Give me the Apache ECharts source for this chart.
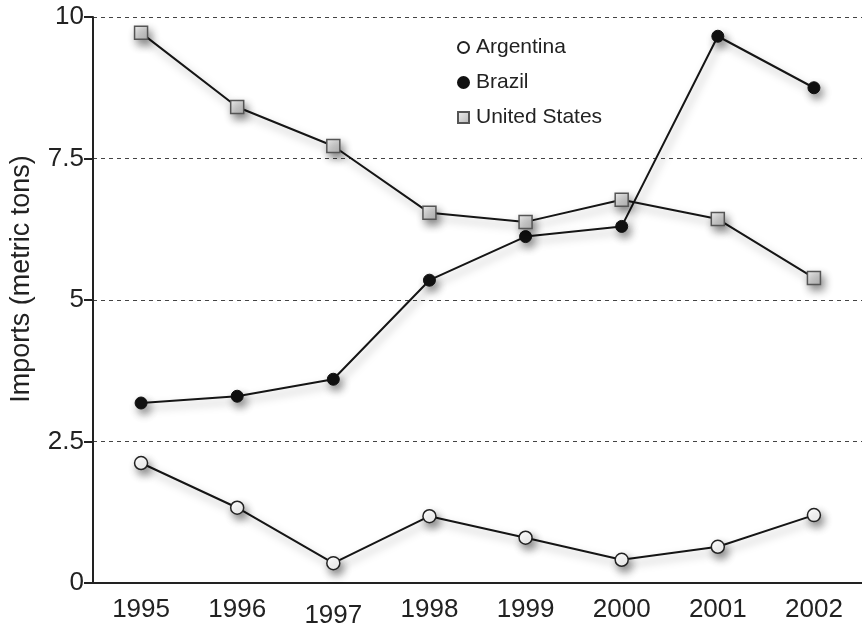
<!DOCTYPE html>
<html>
<head>
<meta charset="utf-8">
<script src="https://cdn.jsdelivr.net/npm/echarts@6/dist/echarts.min.js"></script>
<style>html,body{margin:0;padding:0;background:#fff}#c{width:862px;height:629px}</style>
</head>
<body>
<div id="c"></div>
<script>
var years = ['1995','1996','1997','1998','1999','2000','2001','2002'];
var argentina = [2.12, 1.33, 0.35, 1.18, 0.80, 0.41, 0.64, 1.20];
var brazil = [3.18, 3.30, 3.60, 5.35, 6.12, 6.30, 9.66, 8.75];
var unitedStates = [9.72, 8.41, 7.72, 6.54, 6.38, 6.77, 6.43, 5.39];
var yTicks = [0, 2.5, 5, 7.5, 10];

var FONT = '"Liberation Sans", Arial, Helvetica, sans-serif';
var shadowLine = {shadowBlur: 8, shadowColor: 'rgba(0,0,0,0.35)', shadowOffsetX: 3, shadowOffsetY: 5};
function mk(name, data, symbol, size, itemStyle) {
  return {
    name: name, type: 'line', data: data, symbol: symbol, symbolSize: size,
    showAllSymbol: true,
    lineStyle: Object.assign({color: '#151515', width: 2}, shadowLine),
    itemStyle: Object.assign({shadowBlur: 8, shadowColor: 'rgba(0,0,0,0.45)', shadowOffsetX: 3, shadowOffsetY: 5}, itemStyle),
    emphasis: {disabled: true}, animation: false, z: 3
  };
}
var chart = echarts.init(document.getElementById('c'), null, {renderer: 'canvas'});
chart.setOption({
  animation: false,
  backgroundColor: '#fff',
  grid: {left: 88, top: 17, width: 790, bottom: 46, containLabel: false},
  legend: {
    orient: 'vertical', left: 452, top: 32, itemGap: 14, itemWidth: 11, itemHeight: 11,
    textStyle: {fontFamily: FONT, fontSize: 21, color: '#222', padding: [0, 0, 0, 2]},
    data: [{name: 'Argentina', icon: 'circle'}, {name: 'Brazil', icon: 'circle'}, {name: 'United States', icon: 'rect'}]
  },
  xAxis: {
    type: 'category', data: years, boundaryGap: true,
    axisLine: {lineStyle: {color: '#222', width: 2}},
    axisTick: {alignWithLabel: true, interval: 0, length: 9, lineStyle: {color: '#222', width: 2}},
    axisLabel: {
      interval: 0, fontFamily: FONT, fontSize: 26, color: '#222', margin: 14,
      formatter: function (v) { return v === '1997' ? '{low|' + v + '}' : v; },
      rich: {low: {fontFamily: FONT, fontSize: 26, color: '#222', padding: [6, 0, 0, 0]}}
    },
    splitLine: {show: false}
  },
  yAxis: {
    type: 'value', min: yTicks[0], max: yTicks[yTicks.length - 1], interval: 2.5,
    name: 'Imports (metric tons)', nameLocation: 'middle', nameGap: 58,
    nameTextStyle: {fontFamily: FONT, fontSize: 27, color: '#222', padding: [0, 0, 0, 42]},
    axisLine: {show: true, lineStyle: {color: '#222', width: 2}},
    axisTick: {show: true, length: 9, lineStyle: {color: '#222', width: 2}},
    axisLabel: {fontFamily: FONT, fontSize: 26, color: '#222', margin: 9},
    splitLine: {show: true, lineStyle: {color: '#444', width: 1, type: [4, 4]}}
  },
  series: [
    mk('Argentina', argentina, 'circle', 13, {color: '#fff', borderColor: '#222', borderWidth: 1.5}),
    mk('Brazil', brazil, 'circle', 12, {color: '#111', borderColor: '#111', borderWidth: 1}),
    mk('United States', unitedStates, 'rect', 13, {
      color: new echarts.graphic.LinearGradient(0, 0, 1, 1, [{offset: 0, color: '#f2f2f2'}, {offset: 1, color: '#b5b5b5'}]),
      borderColor: '#555', borderWidth: 1.5
    })
  ]
});
</script>
</body>
</html>
